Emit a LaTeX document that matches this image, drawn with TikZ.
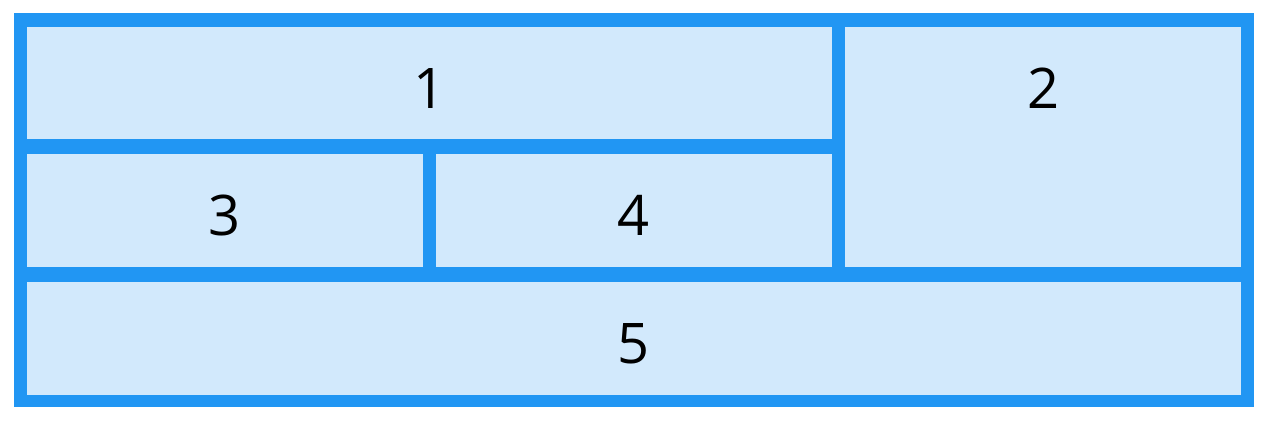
\documentclass[tikz,border=0pt]{standalone}
\usepackage{fontspec}
\setmainfont{Open Sans}
\definecolor{gridblue}{RGB}{33,150,243}
\definecolor{celllight}{RGB}{210,233,252}
\begin{document}
\begin{tikzpicture}[x=1pt,y=-1pt,
  cellbox/.style={fill=celllight,draw=none},
  digit/.style={anchor=base,inner sep=0pt,font=\fontsize{56}{60}\selectfont,text=black}]
\useasboundingbox (0,0) rectangle (1273,420);
\fill[white] (0,0) rectangle (1273,420);
\fill[gridblue] (14,13) rectangle (1254,407);
\path[cellbox] (27,27) rectangle (832,139) coordinate (c1);
\path[cellbox] (845,27) rectangle (1241,267) coordinate (c2);
\path[cellbox] (27,154) rectangle (423,267) coordinate (c3);
\path[cellbox] (436,154) rectangle (832,267) coordinate (c4);
\path[cellbox] (27,282) rectangle (1241,395) coordinate (c5);
\node[digit] (t1) at (429.5,108) {1};
\node[digit] (t2) at (1043,108) {2};
\node[digit] (t3) at (225,235) {3};
\node[digit] (t4) at (634,235) {4};
\node[digit] (t5) at (634,363) {5};
\end{tikzpicture}
\end{document}
